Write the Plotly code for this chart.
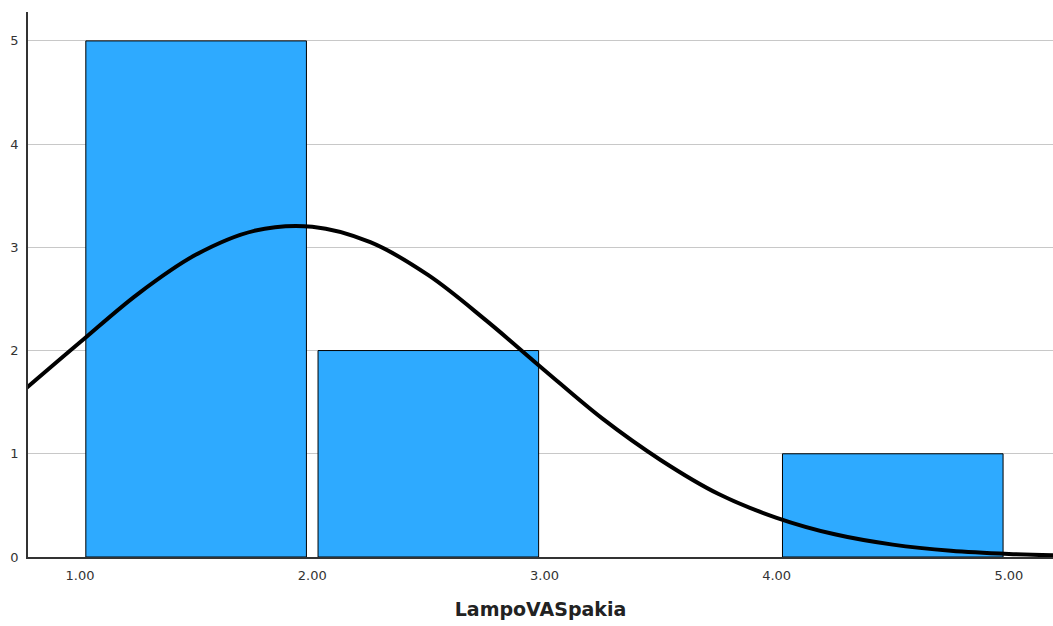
import plotly.graph_objects as go

# Histogram bins (centers) and counts
bin_centers = [1.5, 2.5, 4.5]
counts = [5, 2, 1]
bar_width = 0.95

# Normal curve
curve_x = [0.75, 1.0, 1.25, 1.5, 1.75, 2.0, 2.25, 2.5, 2.75, 3.0, 3.25, 3.5,
           3.75, 4.0, 4.25, 4.5, 4.75, 5.0, 5.25]
curve_y = [1.60, 2.08, 2.55, 2.93, 3.16, 3.20, 3.05, 2.73, 2.29, 1.81, 1.34, 0.94,
           0.61, 0.38, 0.22, 0.12, 0.060, 0.029, 0.013]

x_ticks = [1, 2, 3, 4, 5]
x_tick_labels = ["1.00", "2.00", "3.00", "4.00", "5.00"]
y_ticks = [0, 1, 2, 3, 4, 5]
x_title = "LampoVASpakia"

fig = go.Figure()
fig.add_trace(go.Bar(
    x=bin_centers, y=counts, width=bar_width,
    marker=dict(color="rgb(46,170,255)", line=dict(color="black", width=1)),
    hoverinfo="x+y",
))
fig.add_trace(go.Scatter(
    x=curve_x, y=curve_y, mode="lines",
    line=dict(color="black", width=4, shape="spline"),
    hoverinfo="skip",
))

fig.update_layout(
    width=1053, height=626,
    margin=dict(l=28, r=0, t=12, b=69),
    plot_bgcolor="white", paper_bgcolor="white",
    showlegend=False,
    font=dict(family="DejaVu Sans", color="#333333", size=13),
)
fig.update_xaxes(
    range=[0.776, 5.19], tickvals=x_ticks, ticktext=x_tick_labels,
    showgrid=False, zeroline=False, showline=True, linecolor="#333333", linewidth=1.5,
    ticks="", tickfont=dict(size=13, color="#333333"), automargin=False,
    ticklabelstandoff=6,
    title=dict(text="<b>" + x_title + "</b>",
               font=dict(size=19, color="#222222", family="DejaVu Sans"), standoff=20),
)
fig.update_yaxes(
    range=[0, 5.28], tickvals=y_ticks,
    showgrid=True, gridcolor="#c8c8c8", gridwidth=1, zeroline=False,
    showline=True, linecolor="#333333", linewidth=1.5, automargin=False,
    ticklabelstandoff=5,
    ticks="", tickfont=dict(size=13, color="#333333"),
)

fig.write_html(
    "out.html",
    config={"displayModeBar": False},
    post_script="document.body.style.margin='0'; document.body.style.overflow='hidden';",
)
